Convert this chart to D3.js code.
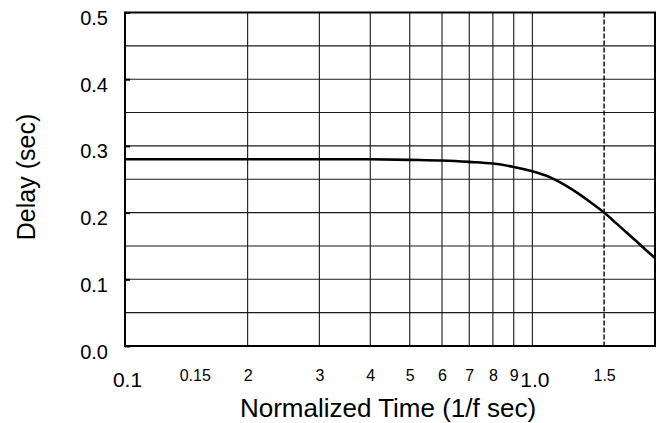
<!DOCTYPE html>
<html>
  <head>
    <meta charset='utf-8'>
    <style>
      body { margin: 0; background: #fff; }
      text { font-family: Arial, "Liberation Sans", sans-serif; fill: #000; }
    </style>
  </head>
  <body>
    <div id="chart"></div>
    <script src="https://cdn.jsdelivr.net/npm/d3@7/dist/d3.min.js"></script>
    <script type="text/javascript">

      // --------------------------- data --------------------------
      var timeValues  = [0.1, 0.2, 0.3, 0.4, 0.5, 0.6, 0.7, 0.8, 0.9, 1.0,
                         1.1, 1.2, 1.3, 1.4, 1.5, 1.6, 1.7, 1.8, 1.9, 2.0];
      var delayValues = [0.28, 0.28, 0.28, 0.28, 0.279, 0.278, 0.276, 0.2735, 0.2685, 0.262,
                         0.2535, 0.2415, 0.228, 0.214, 0.2, 0.185, 0.1705, 0.157, 0.144, 0.132];

      var xTickValues = [0.1, 0.15, 0.2, 0.3, 0.4, 0.5, 0.6, 0.7, 0.8, 0.9, 1.0, 1.5];
      var xTickLabels = ["0.1", "0.15", "2", "3", "4", "5", "6", "7", "8", "9", "1.0", "1.5"];
      var xBigLabels  = ["0.1", "1.0"];
      var xGridSolid  = [0.2, 0.3, 0.4, 0.5, 0.6, 0.7, 0.8, 0.9, 1.0];
      var xGridDashed = [1.5];

      var yTickValues = [0, 0.1, 0.2, 0.3, 0.4, 0.5];
      var yTickLabels = ["0.0", "0.1", "0.2", "0.3", "0.4", "0.5"];
      var yGrid       = [0.05, 0.1, 0.15, 0.2, 0.25, 0.3, 0.35, 0.4, 0.45];

      // --------------------------- layout --------------------------
      var W = 665, H = 423;
      var margin = {top: 12.5, right: 10, bottom: 77, left: 125},
          width = W - margin.left - margin.right,
          height = H - margin.top - margin.bottom;

      var x = d3.scaleLog().domain([0.1, 2.0]).range([0, width]);
      var y = d3.scaleLinear().domain([0, 0.5]).range([height, 0]);

      var svg = d3.select("#chart").append("svg")
          .attr("width", W)
          .attr("height", H);

      var g = svg.append("g")
          .attr("transform", "translate(" + margin.left + "," + margin.top + ")");

      // grid
      g.selectAll(".hgrid").data(yGrid).enter()
        .append("line")
          .attr("x1", 0).attr("x2", width)
          .attr("y1", function(d){ return y(d); })
          .attr("y2", function(d){ return y(d); })
          .attr("stroke", "#1a1a1a").attr("stroke-width", 1.1);

      g.selectAll(".vgrid").data(xGridSolid).enter()
        .append("line")
          .attr("x1", function(d){ return x(d); })
          .attr("x2", function(d){ return x(d); })
          .attr("y1", 0).attr("y2", height)
          .attr("stroke", "#1a1a1a").attr("stroke-width", 1.1);

      g.selectAll(".vdash").data(xGridDashed).enter()
        .append("line")
          .attr("x1", function(d){ return x(d); })
          .attr("x2", function(d){ return x(d); })
          .attr("y1", 0).attr("y2", height)
          .attr("stroke", "#000").attr("stroke-width", 1.4)
          .attr("stroke-dasharray", "5,2");

      // y axis (ticks point inward)
      var yAxis = d3.axisLeft(y)
          .tickValues(yTickValues)
          .tickSize(-5)
          .tickPadding(17)
          .tickFormat(function(d, i){ return yTickLabels[i]; });

      var ya = g.append("g").call(yAxis);
      ya.select(".domain").remove();
      ya.selectAll("line").attr("stroke", "#000").attr("stroke-width", 2);
      ya.selectAll("text")
          .style("font-size", "20px")
          .attr("dy", "0.6em");

      // x axis labels
      var xAxis = d3.axisBottom(x)
          .tickValues(xTickValues)
          .tickSize(0)
          .tickPadding(0)
          .tickFormat(function(d, i){ return xTickLabels[i]; });

      var xa = g.append("g")
          .attr("transform", "translate(0," + height + ")")
          .call(xAxis);
      xa.select(".domain").remove();
      xa.selectAll("text")
          .attr("dy", null)
          .attr("y", function(d, i){ return xBigLabels.indexOf(xTickLabels[i]) >= 0 ? 40.5 : 35; })
          .attr("dx", function(d, i){
            var l = xTickLabels[i];
            if (l === "0.1") return 2;
            if (l === "1.0") return 2;
            if (l === "0.15") return -2;
            return 0;
          })
          .style("font-size", function(d, i){ return xBigLabels.indexOf(xTickLabels[i]) >= 0 ? "21px" : "16px"; });

      // curve
      var pts = timeValues.map(function(t, i){ return [t, delayValues[i]]; });
      var line = d3.line()
          .x(function(d){ return x(d[0]); })
          .y(function(d){ return y(d[1]); })
          .curve(d3.curveCatmullRom.alpha(0.5));

      g.append("path")
          .datum(pts)
          .attr("fill", "none")
          .attr("stroke", "#000")
          .attr("stroke-width", 2.6)
          .attr("d", line);

      // frame
      g.append("rect")
          .attr("x", 0).attr("y", 0)
          .attr("width", width).attr("height", height)
          .attr("fill", "none")
          .attr("stroke", "#000").attr("stroke-width", 2);

      // titles
      svg.append("text")
          .attr("x", 388).attr("y", 417)
          .attr("text-anchor", "middle")
          .style("font-size", "26px")
          .text("Normalized Time (1/f sec)");

      svg.append("text")
          .attr("transform", "translate(35,177) rotate(-90)")
          .attr("text-anchor", "middle")
          .style("font-size", "25px")
          .text("Delay (sec)");

    </script>
  </body>
</html>
